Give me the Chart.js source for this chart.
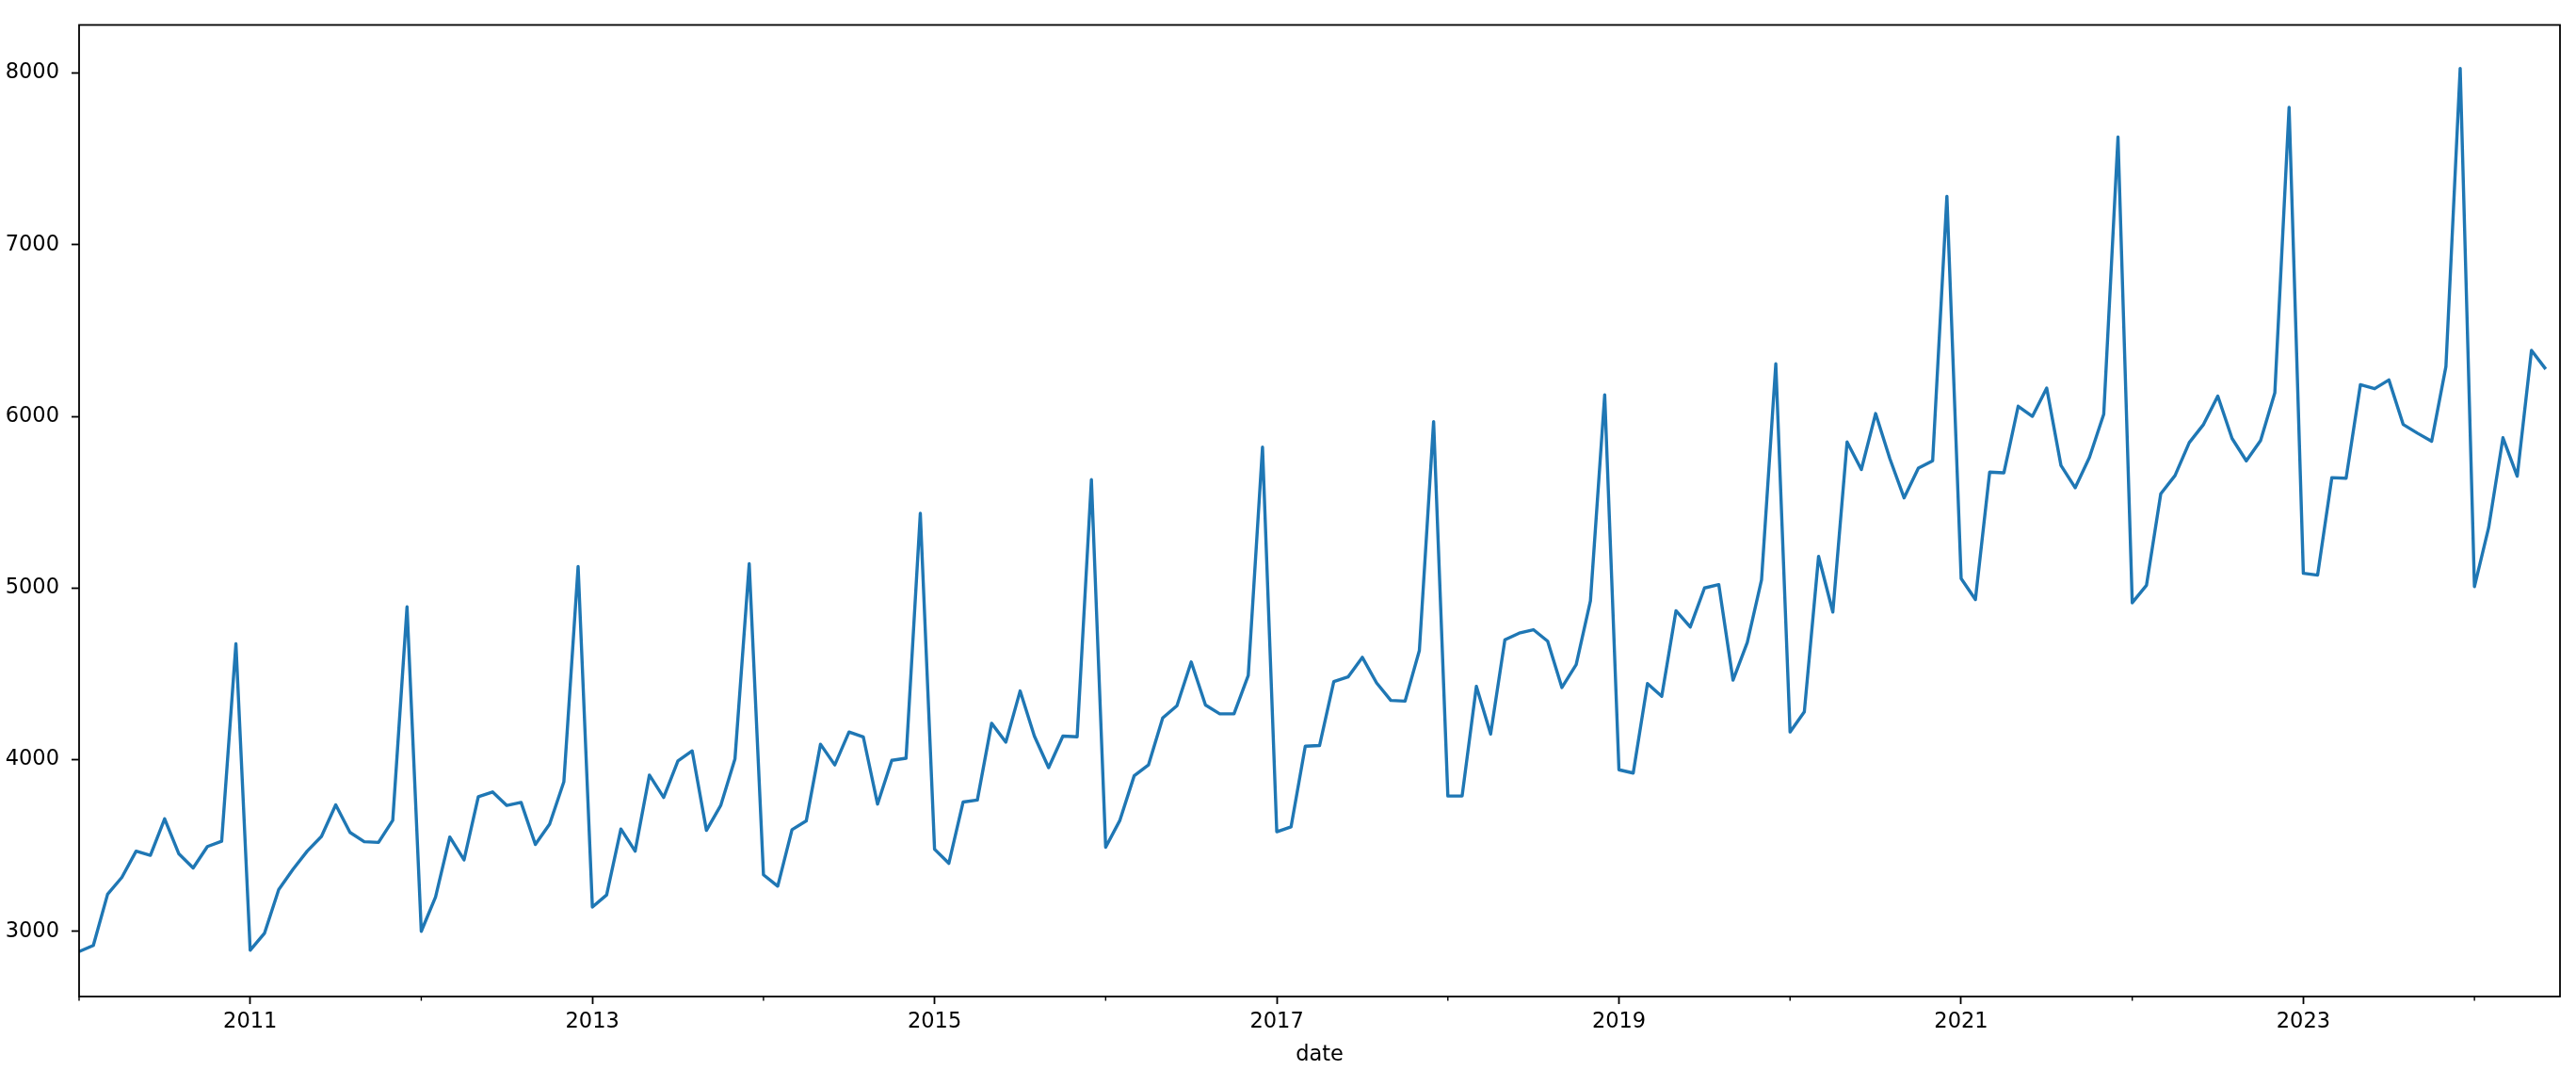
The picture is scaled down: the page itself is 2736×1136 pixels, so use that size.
<!DOCTYPE html>
<html>
<head>
<meta charset="utf-8">
<script src="https://cdn.jsdelivr.net/npm/chart.js@4.4.1/dist/chart.umd.min.js"></script>
<style>
  html, body { margin: 0; padding: 0; background: #ffffff; }
  canvas { display: block; }
</style>
</head>
<body>
<canvas id="c" width="2736" height="1136"></canvas>
<script>
// ---- data (monthly, starting January 2010) ----
const startYear = 2010;
const values2010 = [2882, 2918, 3216, 3314, 3467, 3443, 3655, 3451, 3369, 3494, 3525, 4675];
const values2011 = [2890, 2988, 3243, 3361, 3467, 3553, 3737, 3576, 3522, 3518, 3647, 4890];
const values2012 = [3000, 3200, 3549, 3416, 3784, 3812, 3733, 3751, 3506, 3624, 3871, 5125];
const values2013 = [3141, 3212, 3596, 3467, 3910, 3780, 3992, 4051, 3588, 3733, 4004, 5141];
const values2014 = [3329, 3263, 3592, 3643, 4090, 3969, 4161, 4133, 3741, 3996, 4008, 5435];
const values2015 = [3478, 3396, 3753, 3765, 4212, 4102, 4400, 4137, 3953, 4137, 4133, 5631];
const values2016 = [3490, 3647, 3906, 3969, 4243, 4314, 4569, 4318, 4267, 4267, 4490, 5820];
const values2017 = [3580, 3608, 4078, 4082, 4455, 4482, 4596, 4447, 4345, 4341, 4635, 5969];
const values2018 = [3788, 3788, 4427, 4149, 4698, 4737, 4757, 4690, 4420, 4553, 4925, 6125];
const values2019 = [3941, 3922, 4443, 4369, 4867, 4773, 5000, 5020, 4463, 4682, 5047, 6306];
const values2020 = [4161, 4278, 5184, 4860, 5851, 5690, 6016, 5753, 5525, 5698, 5741, 7282];
const values2021 = [5055, 4933, 5675, 5671, 6059, 6000, 6165, 5714, 5584, 5761, 6012, 7627];
const values2022 = [4914, 5016, 5549, 5655, 5847, 5953, 6118, 5871, 5741, 5859, 6137, 7800];
const values2023 = [5086, 5075, 5643, 5639, 6184, 6161, 6212, 5953, 5902, 5855, 6290, 8027];
const values2024 = [5008, 5353, 5875, 5651, 6384, 6275];

const yTickValues = [3000, 4000, 5000, 6000, 7000, 8000];
const xMajorYears = ['2011', '2013', '2015', '2017', '2019', '2021', '2023'];
const xMinorYears = ['2010', '2012', '2014', '2016', '2018', '2020', '2022', '2024'];
const xAxisTitle = 'date';

const series = [].concat(values2010, values2011, values2012, values2013, values2014,
  values2015, values2016, values2017, values2018, values2019, values2020,
  values2021, values2022, values2023, values2024);
const points = series.map((v, i) => ({ x: i, y: v }));
const yearToIndex = y => (Number(y) - startYear) * 12;

const FONT = { family: "'DejaVu Sans', sans-serif", size: 22.5 };
const INK = '#000000';

// frame (all four spines) and short minor ticks
const framePlugin = {
  id: 'frame',
  afterDraw(chart) {
    const a = chart.chartArea, ctx = chart.ctx;
    const xs = chart.scales.x;
    ctx.save();
    ctx.strokeStyle = INK;
    ctx.lineWidth = 1.8;
    ctx.strokeRect(a.left, a.top, a.right - a.left, a.bottom - a.top);
    ctx.lineWidth = 1.4;
    ctx.beginPath();
    xMinorYears.forEach(y => {
      const px = xs.getPixelForValue(yearToIndex(y));
      ctx.moveTo(px, a.bottom);
      ctx.lineTo(px, a.bottom + 4.6);
    });
    ctx.stroke();
    ctx.restore();
  }
};

new Chart(document.getElementById('c'), {
  type: 'line',
  data: {
    datasets: [{
      data: points,
      borderColor: '#1f77b4',
      borderWidth: 3.4,
      pointRadius: 0,
      pointHoverRadius: 0,
      tension: 0,
      borderJoinStyle: 'round',
      fill: false
    }]
  },
  plugins: [framePlugin],
  options: {
    responsive: false,
    animation: false,
    devicePixelRatio: 1,
    layout: { padding: { left: 0, top: 12, right: 17, bottom: 0 } },
    plugins: { legend: { display: false }, tooltip: { enabled: false } },
    scales: {
      x: {
        type: 'linear',
        min: 0,
        max: series.length,
        afterBuildTicks(scale) {
          scale.ticks = xMajorYears.map(y => ({ value: yearToIndex(y) }));
        },
        afterFit(scale) { scale.height = 78; },
        ticks: {
          autoSkip: false,
          maxRotation: 0,
          padding: 6,
          color: INK,
          font: FONT,
          callback(value) { return String(startYear + Math.round(value / 12)); }
        },
        grid: {
          drawOnChartArea: false,
          drawTicks: true,
          tickLength: 8,
          tickWidth: 1.8,
          tickColor: INK
        },
        border: { display: false },
        title: {
          display: true,
          text: xAxisTitle,
          color: INK,
          font: FONT,
          padding: { top: 0, bottom: 2 }
        }
      },
      y: {
        type: 'linear',
        min: 2620,
        max: 8280,
        afterBuildTicks(scale) {
          scale.ticks = yTickValues.map(v => ({ value: v }));
        },
        afterFit(scale) { scale.width = 84; },
        ticks: {
          padding: 13,
          color: INK,
          font: FONT,
          callback(value) { return String(value); }
        },
        grid: {
          drawOnChartArea: false,
          drawTicks: true,
          tickLength: 8,
          tickWidth: 1.8,
          tickColor: INK
        },
        border: { display: false }
      }
    }
  }
});
</script>
</body>
</html>
